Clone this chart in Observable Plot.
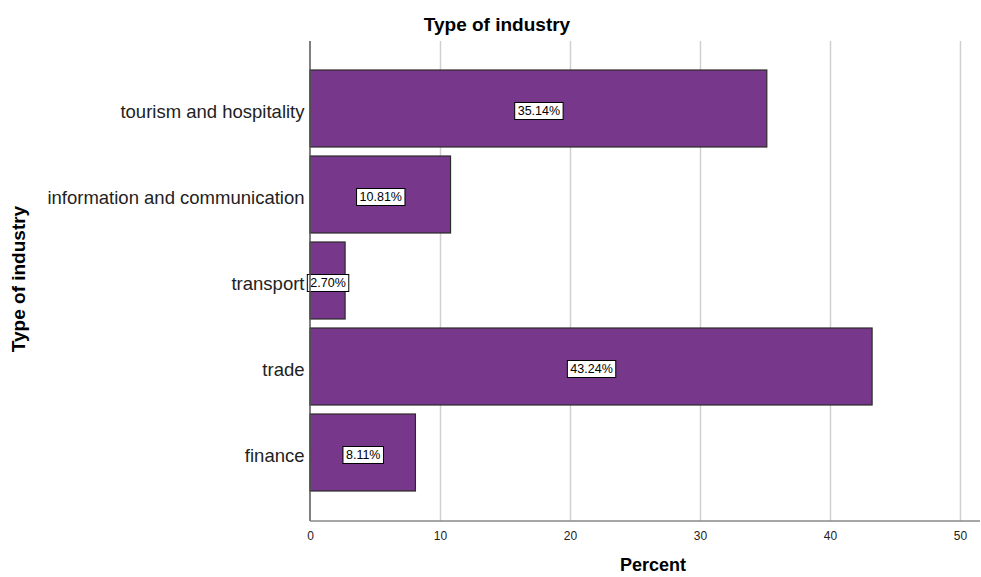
<!DOCTYPE html>
<html><head><meta charset="utf-8">
<script src="https://cdn.jsdelivr.net/npm/d3@7"></script>
<script src="https://cdn.jsdelivr.net/npm/@observablehq/plot@0.6"></script>
<style>
body{margin:0;background:#fff;}
svg{font-family:"Liberation Sans",Arial,sans-serif;}
</style></head>
<body><div id="chart"></div>
<script>
const categories = ["tourism and hospitality","information and communication","transport","trade","finance"];
const percents = [35.14, 10.81, 2.70, 43.24, 8.11];
const xTicks = [0,10,20,30,40,50];
const data = categories.map((c,i)=>({industry:c, pct:percents[i]}));

const chart = Plot.plot({
  width: 981, height: 577,
  marginLeft: 310, marginRight: 1, marginTop: 41, marginBottom: 56,
  style: {fontFamily: '"Liberation Sans",Arial,sans-serif', background: "#fff"},
  x: {domain: [0, 51.54], ticks: xTicks, tickSize: 0, tickPadding: 10, label: null},
  y: {domain: categories, paddingInner: 0.1, paddingOuter: 0.325, tickSize: 0, tickPadding: 6, label: null},
  marks: [
    Plot.ruleX(xTicks.slice(1), {stroke: "#d0d0d0", strokeWidth: 1.5}),
    Plot.barX(data, {y: "industry", x: "pct", fill: "#77378b", stroke: "#2b2b2b", strokeWidth: 1.2}),
    Plot.text(data, {y: "industry", x: d => d.pct/2, dy: 2, text: d => d.pct.toFixed(2) + "%", fill: "#000", fontSize: 12.5, className: "vlabel"})
  ]
});
document.getElementById("chart").appendChild(chart);
const svg = d3.select(chart);
svg.selectAll('[aria-label="y-axis tick label"] text').attr("font-size", 18.5).attr("fill", "#222");
svg.selectAll('g[aria-label="y-axis tick label"]').each(function(){
  const t = this.getAttribute("transform") || "";
  this.setAttribute("transform", t + " translate(0,3)");
});
svg.selectAll('[aria-label="x-axis tick label"] text').attr("font-size", 12).attr("fill", "#222");
const x0 = 310, x1 = 980, yTop = 41, yBot = 521;
svg.append("line").attr("x1", x0).attr("x2", x0).attr("y1", yTop).attr("y2", yBot).attr("stroke", "#555").attr("stroke-width", 1.5);
svg.append("line").attr("x1", x0).attr("x2", x1).attr("y1", yBot).attr("y2", yBot).attr("stroke", "#888").attr("stroke-width", 1.5);
svg.selectAll(".vlabel text").each(function(){
  const b = this.getBBox();
  const tr = this.getAttribute("transform");
  d3.select(this.parentNode).insert("rect", () => this)
    .attr("x", b.x - 3).attr("y", b.y - 1.5).attr("width", b.width + 6).attr("height", b.height + 3)
    .attr("transform", tr).attr("fill", "#fff").attr("stroke", "#000").attr("stroke-width", 1);
});
svg.append("text").attr("x", 497).attr("y", 26).attr("text-anchor", "middle").attr("dominant-baseline", "middle")
  .attr("font-size", 19).attr("font-weight", "bold").attr("fill", "#000").text("Type of industry");
svg.append("text").attr("x", 20).attr("y", 279).attr("transform", "rotate(-90,20,279)")
  .attr("text-anchor", "middle").attr("dominant-baseline", "middle")
  .attr("font-size", 19).attr("font-weight", "bold").attr("fill", "#000").text("Type of industry");
svg.append("text").attr("x", 653).attr("y", 571).attr("text-anchor", "middle")
  .attr("font-size", 18).attr("font-weight", "bold").attr("fill", "#000").text("Percent");
</script></body></html>
